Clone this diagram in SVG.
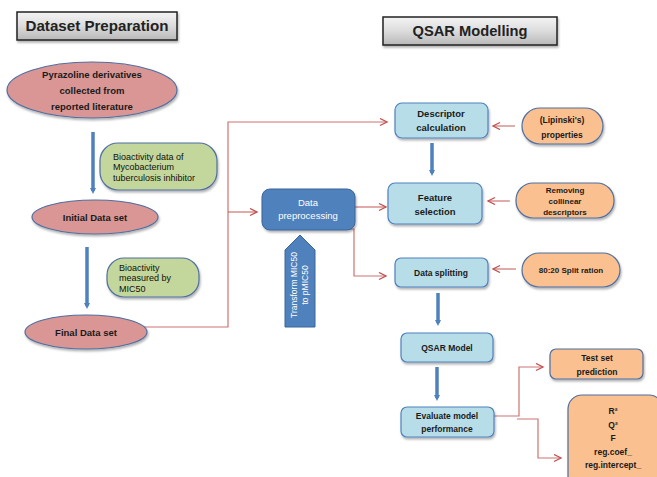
<svg xmlns="http://www.w3.org/2000/svg" width="657" height="477" viewBox="0 0 657 477">
<defs>
<linearGradient id="gray" x1="0" y1="0" x2="0" y2="1">
<stop offset="0" stop-color="#f4f4f4"/>
<stop offset="0.5" stop-color="#dcdcdc"/>
<stop offset="1" stop-color="#b8b8b8"/>
</linearGradient>
<filter id="sh" x="-10%" y="-10%" width="130%" height="140%">
<feDropShadow dx="1" dy="2" stdDeviation="1.2" flood-color="#000" flood-opacity="0.3"/>
</filter>
<marker id="ra" markerWidth="10" markerHeight="10" refX="8" refY="4" orient="auto" markerUnits="userSpaceOnUse">
<path d="M1,0.5 L8,4 L1,7.5" fill="none" stroke="#c0504d" stroke-width="1.3"/>
</marker>
<marker id="ba" markerWidth="10" markerHeight="10" refX="3" refY="3" orient="auto" markerUnits="userSpaceOnUse">
<path d="M0,0 L6,3 L0,6 Z" fill="#4f81bd"/>
</marker>
</defs>
<style>
text{font-family:"Liberation Sans",Arial,sans-serif;fill:#1a1a1a;text-anchor:middle}
.t{font-size:15px;fill:#222;font-weight:bold}
.s{font-size:8.5px;font-weight:bold}
.m{font-size:9.5px;font-weight:bold}
.g{font-size:9px;text-anchor:start;fill:#111}
.w{fill:#ffffff;font-size:9.5px}
.title{fill:url(#gray);stroke:#222;stroke-width:1.5;filter:url(#sh)}
.ell{fill:#d99694;stroke:#4f6fa0;stroke-width:1.2;filter:url(#sh)}
.grn{fill:#c3d69b;stroke:#4f6fa0;stroke-width:1.2;filter:url(#sh)}
.lb{fill:#b7dee8;stroke:#4f81bd;stroke-width:1.2;filter:url(#sh)}
.or{fill:#fac090;stroke:#4f6fa0;stroke-width:1.2;filter:url(#sh)}
.red{fill:none;stroke:#c0504d;stroke-width:1.2;stroke-opacity:0.8}
.blue{fill:none;stroke:#4f81bd;stroke-width:3.5}
</style>

<g id="title-dataset">
<rect class="title" x="17" y="12" width="160" height="28"/>
<text class="t" x="97" y="31" textLength="143" lengthAdjust="spacingAndGlyphs">Dataset Preparation</text>
</g>
<g id="title-qsar">
<rect class="title" x="383" y="17" width="174" height="28"/>
<text class="t" x="470" y="36" textLength="115" lengthAdjust="spacingAndGlyphs">QSAR Modelling</text>
</g>

<g id="connectors">
<line class="blue" x1="93" y1="132" x2="93" y2="191" marker-end="url(#ba)"/>
<line class="blue" x1="87" y1="247" x2="87" y2="306" marker-end="url(#ba)"/>
<line class="blue" x1="432" y1="143" x2="432" y2="173" marker-end="url(#ba)"/>
<line class="blue" x1="438" y1="293" x2="438" y2="323" marker-end="url(#ba)"/>
<line class="blue" x1="437" y1="367" x2="437" y2="398" marker-end="url(#ba)"/>
<polyline class="red" points="125,327 228,327 228,122 387,122" marker-end="url(#ra)"/>
<polyline class="red" points="228,212 257,212" marker-end="url(#ra)"/>
<polyline class="red" points="355,207 386,207" marker-end="url(#ra)"/>
<polyline class="red" points="320,229 354,229 354,276 386,276" marker-end="url(#ra)"/>
<polyline class="red" points="515,126 493,126" marker-end="url(#ra)"/>
<polyline class="red" points="510,201 488,201" marker-end="url(#ra)"/>
<polyline class="red" points="516,269 493,269" marker-end="url(#ra)"/>
<polyline class="red" points="494,416 519,416 519,367 543,367" marker-end="url(#ra)"/>
<polyline class="red" points="517,419 538,419 538,458 561,458" marker-end="url(#ra)"/>
</g>

<g id="pyrazoline">
<ellipse class="ell" cx="92" cy="90" rx="85" ry="28"/>
<text class="s" x="92" y="78" style="font-size:9.5px">Pyrazoline derivatives</text>
<text class="s" x="92" y="94" style="font-size:9.5px">collected from</text>
<text class="s" x="92" y="110" style="font-size:9.5px">reported literature</text>
</g>
<g id="bioactivity1">
<rect class="grn" x="100" y="143" width="117" height="47" rx="18"/>
<text class="g" x="113" y="160">Bioactivity data of</text>
<text class="g" x="113" y="170">Mycobacterium</text>
<text class="g" x="113" y="181">tuberculosis inhibitor</text>
</g>
<g id="initial">
<ellipse class="ell" cx="95" cy="217" rx="63" ry="17"/>
<text class="m" x="95" y="221">Initial Data set</text>
</g>
<g id="bioactivity2">
<rect class="grn" x="107" y="258" width="92" height="39" rx="17"/>
<text class="g" x="119" y="271">Bioactivity</text>
<text class="g" x="119" y="281">measured by</text>
<text class="g" x="119" y="292">MIC50</text>
</g>
<g id="final">
<ellipse class="ell" cx="86" cy="332" rx="61" ry="17"/>
<text class="m" x="86" y="336">Final Data set</text>
</g>

<g id="preprocessing">
<rect x="262" y="189" width="93" height="41" rx="8" fill="#4f81bd" stroke="#3a659a" stroke-width="1" filter="url(#sh)"/>
<text class="w" x="308" y="206">Data</text>
<text class="w" x="308" y="219">preprocessing</text>
</g>
<g id="transform">
<path d="M285,327 L285,250 L300,235 L315,250 L315,327 Z" fill="#4f81bd" stroke="#3a659a" stroke-width="1"/>
<g transform="translate(300,285) rotate(-90)">
<text class="w" x="0" y="-3" style="font-size:8.5px">Transform MIC50</text>
<text class="w" x="0" y="8" style="font-size:8.5px">to pMIC50</text>
</g>
</g>

<g id="descriptor">
<rect class="lb" x="395" y="103" width="93" height="35" rx="7"/>
<text class="s" x="441" y="117" style="font-size:9.5px">Descriptor</text>
<text class="s" x="441" y="131" style="font-size:9.5px">calculation</text>
</g>
<g id="lipinski">
<rect class="or" x="522" y="108" width="81" height="36" rx="18"/>
<text class="s" x="562" y="123">(Lipinski's)</text>
<text class="s" x="562" y="138">properties</text>
</g>
<g id="feature">
<rect class="lb" x="388" y="183" width="94" height="41" rx="7"/>
<text class="m" x="435" y="201">Feature</text>
<text class="m" x="435" y="215">selection</text>
</g>
<g id="removing">
<rect class="or" x="516" y="183" width="98" height="35" rx="17"/>
<text class="s" x="565" y="193" style="font-size:8px">Removing</text>
<text class="s" x="565" y="204" style="font-size:8px">collinear</text>
<text class="s" x="565" y="215" style="font-size:8px">descriptors</text>
</g>
<g id="splitting">
<rect class="lb" x="395" y="258" width="93" height="29" rx="6"/>
<text class="s" x="441" y="276">Data splitting</text>
</g>
<g id="split-ratio">
<rect class="or" x="522" y="253" width="98" height="34" rx="17"/>
<text class="s" x="571" y="273" style="font-size:8px">80:20 Split ration</text>
</g>
<g id="qsar-model">
<rect class="lb" x="401" y="333" width="92" height="29" rx="6"/>
<text class="s" x="447" y="351">QSAR Model</text>
</g>
<g id="evaluate">
<rect class="lb" x="401" y="407" width="93" height="30" rx="6"/>
<text class="s" x="447" y="419">Evaluate model</text>
<text class="s" x="447" y="432">performance</text>
</g>
<g id="test-set">
<rect class="or" x="550" y="349" width="93" height="30" rx="6"/>
<text class="s" x="597" y="361">Test set</text>
<text class="s" x="597" y="375">prediction</text>
</g>
<g id="metrics">
<rect class="or" x="568" y="395" width="95" height="95" rx="14"/>
<text class="s" x="613" y="414">R²</text>
<text class="s" x="613" y="428">Q²</text>
<text class="s" x="613" y="441">F</text>
<text class="s" x="613" y="455">reg.coef_</text>
<text class="s" x="613" y="468">reg.intercept_</text>
</g>
</svg>
